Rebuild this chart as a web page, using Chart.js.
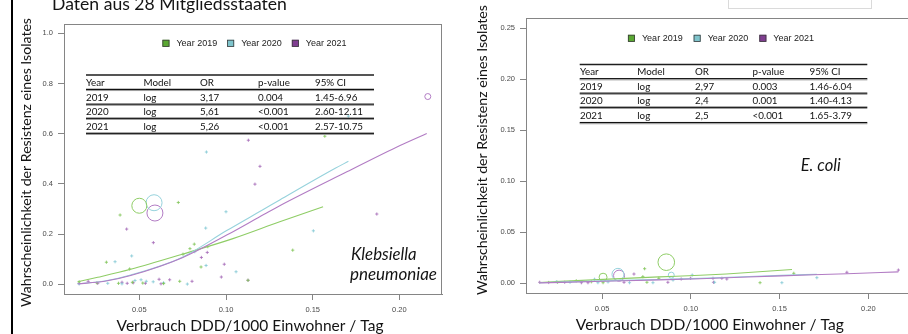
<!DOCTYPE html>
<html>
<head>
<meta charset="utf-8">
<script src="https://cdn.jsdelivr.net/npm/chart.js@4.4.1/dist/chart.umd.min.js"></script>
<style>
  html, body { margin: 0; padding: 0; background: #fff; }
  body { position: relative; width: 908px; height: 334px; overflow: hidden; }
  canvas { position: absolute; top: 0; }
  #kp { left: 0; }
  #ec { left: 454px; }
  .bar { position: absolute; left: 11px; top: 0; width: 2px; height: 334px; background: #000; }
  .stub { position: absolute; left: 728px; top: -2px; width: 142px; height: 9px; border: 1px solid #dadada; }
</style>
</head>
<body>
<div class="bar"></div>
<div class="stub"></div>
<canvas id="kp" width="454" height="334"></canvas>
<canvas id="ec" width="470" height="334"></canvas>
<script>
// ---- data ----
const years = ["Year 2019", "Year 2020", "Year 2021"]
const tableHead = ["Year", "Model", "OR", "p-value", "95% CI"]
const kpTable = [
  ["2019", "log", "3,17", "0.004", "1.45-6.96"],
  ["2020", "log", "5,61", "<0.001", "2.60-12.11"],
  ["2021", "log", "5,26", "<0.001", "2.57-10.75"]
]
const ecTable = [
  ["2019", "log", "2,97", "0.003", "1.46-6.04"],
  ["2020", "log", "2,4", "0.001", "1.40-4.13"],
  ["2021", "log", "2,5", "<0.001", "1.65-3.79"]
]

const xTicks = [0.05, 0.10, 0.15, 0.20]
const kpYTicks = [0, 0.2, 0.4, 0.6, 0.8, 1.0]
const ecYTicks = [0, 0.05, 0.10, 0.15, 0.20, 0.25]

// Klebsiella pneumoniae, one point per country [DDD, probability]
const kp2019 = [[0.0153,0.010],[0.0255,0.006],[0.031,0.088],[0.038,0.004],[0.0389,0.276],[0.0444,0.061],[0.046,0.008],[0.052,0.005],[0.064,0.003],[0.0725,0.326],[0.0733,0.012],[0.0752,0.120],[0.0792,0.142],[0.0817,0.160],[0.0856,0.069],[0.0895,0.150],[0.1127,0.016],[0.1385,0.136],[0.157,0.590]]
const kp2020 = [[0.0153,0.002],[0.0318,0.004],[0.036,0.090],[0.040,0.002],[0.0456,0.113],[0.0475,0.015],[0.051,0.018],[0.054,0.012],[0.058,0.010],[0.064,0.006],[0.0777,0.001],[0.082,0.130],[0.0883,0.224],[0.0885,0.075],[0.0887,0.527],[0.100,0.289],[0.1058,0.050],[0.1504,0.213],[0.1706,0.670]]
const kp2021 = [[0.0153,0.003],[0.0205,0.012],[0.026,0.004],[0.040,0.008],[0.0427,0.220],[0.043,0.004],[0.0465,0.006],[0.0535,0.004],[0.0581,0.166],[0.0614,0.020],[0.0625,0.002],[0.0675,0.018],[0.0804,0.012],[0.0858,0.107],[0.0892,0.127],[0.0973,0.029],[0.099,0.080],[0.1127,0.016],[0.1129,0.574],[0.1167,0.399],[0.1196,0.470],[0.187,0.280]]
// open circles [x, y, r]
const kpBub2019 = [[0.050, 0.313, 7.5]]
const kpBub2020 = [[0.0585, 0.325, 8]]
const kpBub2021 = [[0.059, 0.284, 8], [0.2164, 0.748, 3]]
// fitted logistic curves
const kpFit2019 = [[0.0145,0.010],[0.026,0.028],[0.045,0.060],[0.0748,0.120],[0.104,0.182],[0.131,0.249],[0.156,0.309]]
const kpFit2020 = [[0.0145,0.002],[0.03,0.013],[0.045,0.037],[0.0748,0.108],[0.1004,0.214],[0.122,0.300],[0.131,0.336],[0.163,0.462],[0.1706,0.490]]
const kpFit2021 = [[0.0145,0.002],[0.03,0.012],[0.045,0.035],[0.0748,0.106],[0.1004,0.196],[0.122,0.279],[0.131,0.313],[0.1697,0.448],[0.2004,0.553],[0.2158,0.601]]

// E. coli
const ec2019 = [[0.025,0.001],[0.0355,0.0025],[0.044,0.0015],[0.0506,0.0006],[0.073,0.0065],[0.074,0.0143],[0.0753,0.001],[0.082,0.0049],[0.139,0.0006],[0.158,0.0098]]
const ec2020 = [[0.0243,0.0016],[0.032,0.001],[0.0458,0.004],[0.0477,0.0006],[0.0534,0.0013],[0.0655,0.0006],[0.0787,0.0006],[0.090,0.0032],[0.1008,0.0081],[0.1134,0.001],[0.1513,0.0006],[0.171,0.0055]]
const ec2021 = [[0.0149,0.001],[0.020,0.0008],[0.029,0.001],[0.0384,0.0006],[0.0421,0.0006],[0.0624,0.001],[0.068,0.0091],[0.0871,0.001],[0.0946,0.0042],[0.0999,0.0049],[0.1125,0.0049],[0.1128,0.001],[0.1175,0.0049],[0.1203,0.0042],[0.1879,0.0108],[0.2169,0.013]]
const ecBub2019 = [[0.0506, 0.006, 4], [0.0862, 0.0207, 8.3]]
const ecBub2020 = [[0.059, 0.0088, 6], [0.089, 0.008, 3]]
const ecBub2021 = [[0.0596, 0.0075, 5.5]]
const ecFit2019 = [[0.0149,0.0008],[0.0506,0.0039],[0.0824,0.0063],[0.1053,0.0079],[0.12,0.0092],[0.157,0.0135]]
const ecFit2020 = [[0.0149,0.0006],[0.0506,0.0024],[0.0824,0.0038],[0.1053,0.0048],[0.151,0.0078],[0.171,0.0088]]
const ecFit2021 = [[0.0149,0.0004],[0.0506,0.0020],[0.0824,0.0034],[0.1053,0.0045],[0.151,0.0073],[0.1879,0.0094],[0.2169,0.0112]]

const yTitle = "Wahrscheinlichkeit der Resistenz eines Isolates"
const xTitle = "Verbrauch DDD/1000 Einwohner / Tag"

// ---- styling ----
const yearColors = [
  { mark: "#8fcd66", dot: "rgba(128,196,86,0.8)", key: "#5aa832" },
  { mark: "#96d2dc", dot: "rgba(130,200,212,0.8)", key: "#7ec4cc" },
  { mark: "#b27cc4", dot: "rgba(164,104,182,0.8)", key: "#7f3d90" }
]
const tickFont = { family: "'Liberation Sans', Arial, sans-serif", size: 7.5 }
const frameColor = "#858585"

const toXY = arr => arr.map(([x, y]) => ({ x, y }))
const toXYR = arr => arr.map(([x, y, r]) => ({ x, y, r }))

function drawLabel(ctx, t) {
  const style = t.italic ? "italic " : ""
  const family = "Lato, 'Open Sans', sans-serif"
  let size = 16
  ctx.font = `${style}${size}px ${family}`
  size = size * t.width / ctx.measureText(t.text).width
  ctx.font = `${style}${size.toFixed(2)}px ${family}`
  ctx.save()
  ctx.translate(t.x, t.y)
  if (t.rotate) ctx.rotate(-Math.PI / 2)
  ctx.textAlign = t.align || "left"
  ctx.textBaseline = "alphabetic"
  ctx.fillStyle = "#141414"
  ctx.fillText(t.text, 0, 0)
  ctx.restore()
}

function drawKey(ctx, key) {
  ctx.font = "9px 'Liberation Sans', Arial, sans-serif"
  const widths = years.map(t => ctx.measureText(t).width)
  const total = widths.reduce((s, w) => s + w, 0) + years.length * (key.box + key.gap) + (years.length - 1) * key.spacing
  let x = key.cx - total / 2
  years.forEach((t, i) => {
    ctx.fillStyle = yearColors[i].key
    ctx.fillRect(x, key.cy - key.box / 2, key.box, key.box)
    ctx.strokeStyle = "#3c3c3c"
    ctx.lineWidth = 0.8
    ctx.strokeRect(x + 0.4, key.cy - key.box / 2 + 0.4, key.box - 0.8, key.box - 0.8)
    x += key.box + key.gap
    ctx.fillStyle = "#222"
    ctx.textAlign = "left"
    ctx.textBaseline = "middle"
    ctx.fillText(t, x, key.cy + 0.5)
    x += widths[i] + key.spacing
  })
}

function drawTable(ctx, tb, rows) {
  const all = [tableHead, ...rows]
  const w = tb.x1 - tb.x0
  tb.rules.forEach((y, i) => {
    if (i === 0) {
      ctx.fillStyle = "#1e1e1e"
      ctx.fillRect(tb.x0, y - 0.75, w, 1.5)
    } else {
      ctx.fillStyle = "#111"
      ctx.fillRect(tb.x0, y - 0.75, w, 1.3)
      ctx.fillStyle = "#9a9a9a"
      ctx.fillRect(tb.x0, y + 0.55, w, 1)
    }
  })
  ctx.font = "9.8px Lato, 'Open Sans', sans-serif"
  ctx.fillStyle = "#111"
  ctx.textAlign = "left"
  ctx.textBaseline = "middle"
  all.forEach((row, r) => {
    const y = (tb.rules[r] + tb.rules[r + 1]) / 2 + 0.5
    row.forEach((cell, c) => ctx.fillText(cell, tb.cols[c], y))
  })
}

const slidePlugin = {
  id: "slide",
  afterDraw(chart, args, opts) {
    const ctx = chart.ctx
    const a = chart.chartArea
    ctx.save()
    ctx.strokeStyle = frameColor
    ctx.lineWidth = 1
    ctx.strokeRect(a.left + 0.5, a.top + 0.5, a.right - a.left - 1, a.bottom - a.top)
    drawKey(ctx, opts.key)
    drawTable(ctx, opts.table, opts.rows)
    opts.labels.forEach(t => drawLabel(ctx, t))
    ctx.restore()
  }
}

function buildPanel(id, p) {
  const datasets = []
  // later index is drawn first, so 2021 line ends up on top
  for (let i = 2; i >= 0; i--) {
    datasets.push({
      type: "line", data: toXY(p.fits[i]), borderColor: yearColors[i].mark, borderWidth: 1.1,
      pointRadius: 0, fill: false, cubicInterpolationMode: "monotone"
    })
  }
  for (let i = 0; i < 3; i++) {
    datasets.push({
      type: "scatter", data: toXY(p.points[i]), borderColor: yearColors[i].dot,
      backgroundColor: yearColors[i].dot, pointStyle: "cross", pointRadius: 1.6, borderWidth: 1
    })
    datasets.push({
      type: "bubble", data: toXYR(p.bubbles[i]), borderColor: yearColors[i].mark,
      backgroundColor: "rgba(0,0,0,0)", borderWidth: 1
    })
  }

  const axis = (ticks, digits, min, max, fit) => ({
    type: "linear", min, max,
    afterBuildTicks: s => { s.ticks = ticks.map(v => ({ value: v })) },
    afterFit: fit,
    grid: { drawOnChartArea: false, drawTicks: true, tickLength: 6, color: frameColor },
    border: { display: true, color: frameColor },
    ticks: { font: tickFont, color: "#4a4a4a", padding: 5, maxRotation: 0, autoSkip: false, callback: v => Number(v).toFixed(digits) }
  })

  return new Chart(document.getElementById(id), {
    type: "scatter",
    data: { datasets },
    plugins: [slidePlugin],
    options: {
      responsive: false,
      animation: false,
      devicePixelRatio: 1,
      events: [],
      layout: { padding: { top: p.top, right: p.right, left: 0, bottom: 0 } },
      plugins: {
        legend: { display: false },
        tooltip: { enabled: false },
        slide: { key: p.key, table: p.table, rows: p.rows, labels: p.labels }
      },
      scales: {
        x: axis(xTicks, 2, p.xMin, p.xMax, s => { s.height = p.xAxisH }),
        y: axis(p.yTicks, p.yDigits, p.yMin, p.yMax, s => { s.width = p.yAxisW })
      }
    }
  })
}

buildPanel("kp", {
  points: [kp2019, kp2020, kp2021],
  bubbles: [kpBub2019, kpBub2020, kpBub2021],
  fits: [kpFit2019, kpFit2020, kpFit2021],
  yTicks: kpYTicks, yDigits: 1,
  xMin: 0.00655, xMax: 0.2246, yMin: -0.0386, yMax: 1.037,
  top: 24, right: 12, xAxisH: 40, yAxisW: 64,
  key: { cx: 254.5, cy: 43.3, box: 7, gap: 7, spacing: 10 },
  table: { x0: 86, x1: 374, rules: [75, 89.5, 104.3, 118.4, 133.4], cols: [86, 143.5, 200, 258, 315] },
  rows: kpTable,
  labels: [
    { text: "Daten aus 28 Mitgliedsstaaten", x: 52, y: 9.5, width: 235 },
    { text: yTitle, x: 30.5, y: 162.5, width: 289, rotate: true, align: "center" },
    { text: xTitle, x: 250, y: 330.5, width: 267, align: "center" },
    { text: "Klebsiella", x: 351, y: 260.3, width: 65.7, italic: true },
    { text: "pneumoniae", x: 350, y: 279.7, width: 87, italic: true }
  ]
})

buildPanel("ec", {
  points: [ec2019, ec2020, ec2021],
  bubbles: [ecBub2019, ecBub2020, ecBub2021],
  fits: [ecFit2019, ecFit2020, ecFit2021],
  yTicks: ecYTicks, yDigits: 2,
  xMin: 0.0072, xMax: 0.2257, yMin: -0.0095, yMax: 0.2601,
  top: 18, right: 10, xAxisH: 41, yAxisW: 72,
  key: { cx: 267, cy: 38.3, box: 7, gap: 7, spacing: 11 },
  table: { x0: 125.7, x1: 413.3, rules: [64.5, 78.8, 93.3, 107.4, 122.7], cols: [126, 183.3, 241, 298.5, 355.5] },
  rows: ecTable,
  labels: [
    { text: yTitle, x: 33.3, y: 150, width: 290, rotate: true, align: "center" },
    { text: xTitle, x: 255.8, y: 329.7, width: 268, align: "center" },
    { text: "E. coli", x: 346.7, y: 171, width: 40, italic: true }
  ]
})
</script>
</body>
</html>
